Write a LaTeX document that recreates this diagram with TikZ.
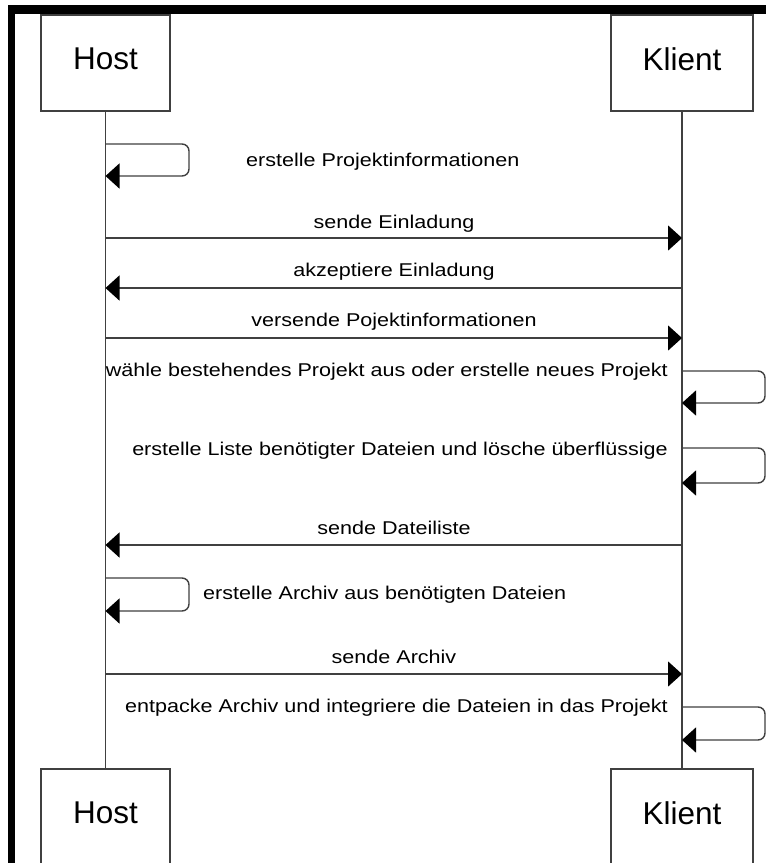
\documentclass[tikz,border=0pt]{standalone}
\usepackage{fontspec}
\setmainfont{Liberation Sans}
\newfontfamily\msgfont[FakeStretch=1.165]{Liberation Sans}
\usetikzlibrary{arrows.meta}

\begin{document}
\begin{tikzpicture}[x=1pt,y=-1pt,
    actor/.style={draw=black!75,line width=1.4pt,minimum height=96pt,inner sep=0pt,
      text depth=8pt,font=\fontsize{31.5}{36}\selectfont},
    life/.style={draw=black!75,line width=1.4pt},
    msg/.style={draw=black!75,line width=1.4pt,-{Triangle[length=14pt,width=25pt,color=black]}},
    selfmsg/.style={msg,rounded corners=7pt},
    lbl/.style={inner sep=0pt,font=\msgfont\fontsize{18.5}{22}\selectfont}]
      \useasboundingbox (0,0) rectangle (766,863);
      \fill[white] (0,0) rectangle (766,863);
      \fill[black] (8,5) rectangle (15,863);
      \fill[black] (8,5) rectangle (766,14);
%
      \node[actor,minimum width=129pt] (hostTop) at (105.5,63) {Host};
      \node[actor,minimum width=142pt] (klientTop) at (682,63) {Klient};
      \node[actor,minimum width=129pt] (hostBot) at (105.5,817) {Host};
      \node[actor,minimum width=142pt] (klientBot) at (682,817) {Klient};
%
      \draw[life] (hostTop) -- (hostBot);
      \draw[life] (klientTop) -- (klientBot);
      %
      \coordinate (S1a) at (105.5,144);%%
      \coordinate (S1b) at (105.5,176);%%
      \coordinate (H1) at (105.5,238);%%
      \coordinate (K1) at (682,238);%%
      \coordinate (H2) at (105.5,288);%%
      \coordinate (K2) at (682,288);%%
      \coordinate (H3) at (105.5,338);%%
      \coordinate (K3) at (682,338);%%
      \coordinate (S2a) at (682,371);%%
      \coordinate (S2b) at (682,403);%%
      \coordinate (S3a) at (682,448);%%
      \coordinate (S3b) at (682,483);%%
      \coordinate (H4) at (105.5,545);%%
      \coordinate (K4) at (682,545);%%
      \coordinate (S4a) at (105.5,578);%%
      \coordinate (S4b) at (105.5,611);%%
      \coordinate (H5) at (105.5,674);%%
      \coordinate (K5) at (682,674);%%
      \coordinate (S5a) at (682,707);%%
      \coordinate (S5b) at (682,740);%%
%
      \draw[selfmsg] (S1a) -- ++(83.5,0) |- (S1b);
      \node[lbl,anchor=base west] (t1) at (246,166) {erstelle Projektinformationen};
%
      \draw[msg] (H1) -- (K1);
      \node[lbl,anchor=base] (t2) at (394,228) {sende Einladung};
      \draw[msg] (K2) -- (H2);
      \node[lbl,anchor=base] (t3) at (394,276) {akzeptiere Einladung};
      \draw[msg] (H3) -- (K3);
      \node[lbl,anchor=base] (t4) at (394,326) {versende Pojektinformationen};
%
      \draw[selfmsg] (S2a) -- ++(83,0) |- (S2b);
      \node[lbl,anchor=base east] (t5) at (668,376) {wähle bestehendes Projekt aus oder erstelle neues Projekt};
      \draw[selfmsg] (S3a) -- ++(83,0) |- (S3b);
      \node[lbl,anchor=base east] (t6) at (668,455) {erstelle Liste benötigter Dateien und lösche überflüssige};
%
      \draw[msg] (K4) -- (H4);
      \node[lbl,anchor=base] (t7) at (394,534) {sende Dateiliste};
      \draw[selfmsg] (S4a) -- ++(83.5,0) |- (S4b);
      \node[lbl,anchor=base west] (t8) at (203,599) {erstelle Archiv aus benötigten Dateien};
      \draw[msg] (H5) -- (K5);
      \node[lbl,anchor=base] (t9) at (394,663) {sende Archiv};
      \draw[selfmsg] (S5a) -- ++(83,0) |- (S5b);
      \node[lbl,anchor=base east] (t10) at (668,712) {entpacke Archiv und integriere die Dateien in das Projekt};
   \end{tikzpicture}
\end{document}
